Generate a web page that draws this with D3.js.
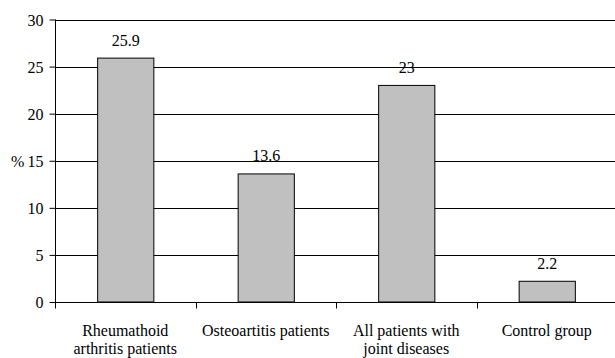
<!DOCTYPE html>
<html><head><meta charset="utf-8">
<script src="https://cdn.jsdelivr.net/npm/d3@7"></script>
<style>body{margin:0;background:#fff}svg{display:block}</style>
</head><body>
<svg id="c" width="615" height="358"></svg>
<script>
const categories = [["Rheumathoid","arthritis patients"],["Osteoartitis patients"],["All patients with","joint diseases"],["Control group"]];
const values = [25.9, 13.6, 23, 2.2];
const labels = ["25.9","13.6","23","2.2"];
const yTicks = [0,5,10,15,20,25,30];
const yTitle = "%";
const FONT = "'Times New Roman', 'Liberation Serif', Tinos, serif";

const svg = d3.select("#c");
const pL = 55, pR = 617, pT = 19.5, pB = 302;
const x = d3.scaleBand().domain(d3.range(values.length)).range([pL,pR]).paddingInner(0.6).paddingOuter(0.3);
const xb = d3.scaleBand().domain(d3.range(values.length)).range([pL,pR]);
const y = d3.scaleLinear().domain([0,30]).range([pB,pT]);

function txt(sel){
  return sel.attr("font-family",FONT).style("font-family",FONT,"important")
    .attr("font-size",16).attr("fill","#000");
}

// gridlines
svg.append("g").selectAll("line").data(yTicks.filter(d=>d>0)).join("line")
  .attr("x1",pL).attr("x2",615).attr("y1",d=>Math.round(y(d))+0.5).attr("y2",d=>Math.round(y(d))+0.5)
  .attr("stroke","#000").attr("stroke-width",1);

// bars
svg.append("g").selectAll("rect").data(values).join("rect")
  .attr("x",(d,i)=>x(i)+0.5).attr("width",x.bandwidth())
  .attr("y",d=>y(d)).attr("height",d=>pB-y(d))
  .attr("fill","#c0c0c0").attr("stroke","#000").attr("stroke-width",1);

// value labels
txt(svg.append("g").selectAll("text").data(values).join("text"))
  .attr("x",(d,i)=>x(i)+x.bandwidth()/2+0.5).attr("y",d=>y(d)-12.5)
  .attr("text-anchor","middle").text((d,i)=>labels[i]);

// y axis
const ya = svg.append("g").attr("transform",`translate(${pL+0.5},0)`)
  .call(d3.axisLeft(y).tickValues(yTicks).tickSize(6).tickPadding(6));
ya.attr("font-family",null).attr("font-size",null);
ya.select(".domain").attr("d",`M0,${pT}V${pB}`);
ya.selectAll("line,path").attr("stroke","#000");
txt(ya.selectAll("text")).attr("dy",null).attr("y",5.8);

// x axis
const xa = svg.append("g").attr("transform",`translate(0,${pB+0.5})`);
xa.append("line").attr("x1",pL).attr("x2",615).attr("stroke","#000");
xa.selectAll(".tk").data(d3.range(values.length+1)).join("line").attr("class","tk")
  .attr("x1",i=>Math.round(pL+i*xb.bandwidth())+0.5).attr("x2",i=>Math.round(pL+i*xb.bandwidth())+0.5)
  .attr("y1",0).attr("y2",6).attr("stroke","#000");

// category labels
const cl = txt(svg.append("g").selectAll("text").data(categories).join("text"))
  .attr("x",(d,i)=>xb(i)+xb.bandwidth()/2).attr("y",336)
  .attr("text-anchor","middle");
cl.selectAll("tspan").data(d=>d).join("tspan")
  .attr("x",function(){return this.parentNode.getAttribute("x");})
  .attr("dy",(d,j)=>j===0?0:18).text(d=>d);

// y title
txt(svg.append("text")).attr("x",11).attr("y",y(15)+5.8).text(yTitle);
</script>
</body></html>
